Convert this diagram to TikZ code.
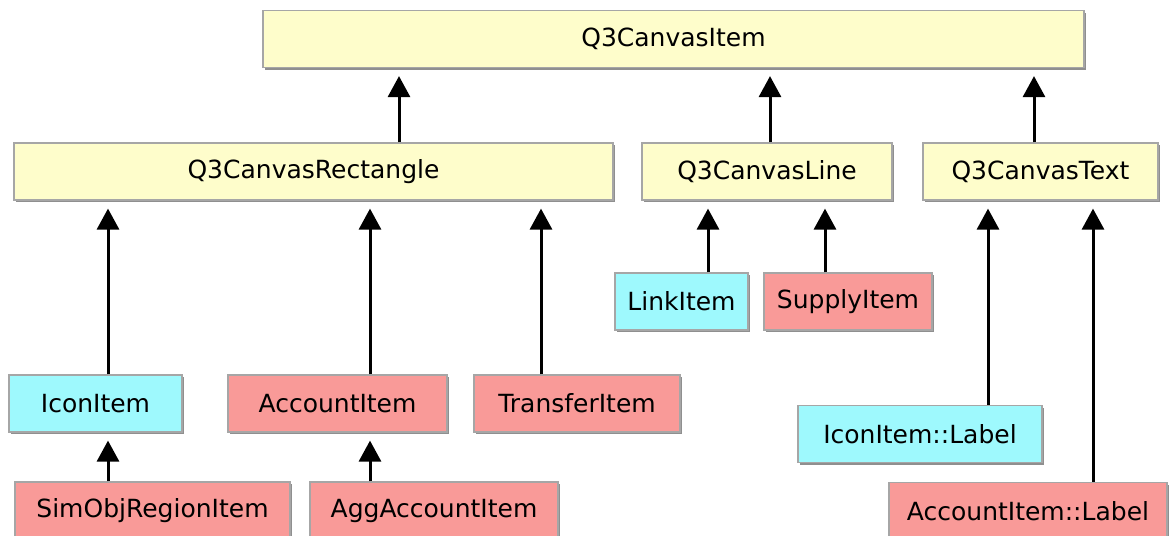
\documentclass[tikz,border=0pt]{standalone}
\usepackage{fontspec}
\setmainfont{DejaVu Sans}
\usetikzlibrary{arrows.meta,shadows}

\definecolor{qtyellow}{HTML}{FEFDCB}
\definecolor{owncyan}{HTML}{9EF9FD}
\definecolor{ownred}{HTML}{F99A98}

\begin{document}
\begin{tikzpicture}[x=0.5pt,y=-0.5pt,
    isa/.style={-{Triangle[width=11pt,length=10.5pt]},line width=1.5pt,
                shorten >=4pt}]
      \tikzstyle{every node}=[font=\fontsize{12.5}{15}\selectfont]
      \tikzstyle{cls}=[rectangle,draw=black!35,line width=0.6pt,inner sep=0pt,
                       minimum height=28.5pt,
                       drop shadow={shadow xshift=1.2pt,shadow yshift=-1.2pt,
                                    fill=black!55,opacity=0.8}]
      \tikzstyle{qt}=[cls,fill=qtyellow]
      \tikzstyle{view}=[cls,fill=owncyan]
      \tikzstyle{model}=[cls,fill=ownred]

      \useasboundingbox (0,0) rectangle (1174,536);

      % Qt classes
      \node[qt,minimum width=410.5pt] (item) at (673.5,39)    {Q3CanvasItem};
      \node[qt,minimum width=299.5pt] (rect) at (313.5,171.5) {Q3CanvasRectangle};
      \node[qt,minimum width=125pt]   (line) at (767,171.5)   {Q3CanvasLine};
      \node[qt,minimum width=117.5pt] (text) at (1040.5,171.5) {Q3CanvasText};

      % own classes
      \node[view,minimum width=66.5pt]  (link)   at (681.5,301.5) {LinkItem};
      \node[model,minimum width=84pt]   (supply) at (848,301.5)   {SupplyItem};
      \node[view,minimum width=86.5pt]  (icon)   at (95.5,403.5)  {IconItem};
      \node[model,minimum width=109.5pt] (account) at (337.5,403.5) {AccountItem};
      \node[model,minimum width=103pt]  (transfer) at (577,403.5) {TransferItem};
      \node[view,minimum width=122pt]   (iconlabel) at (920,434)  {IconItem::Label};
      \node[model,minimum width=137.5pt] (simobj) at (152.5,510.5) {SimObjRegionItem};
      \node[model,minimum width=124pt]  (agg)    at (434,510.5)   {AggAccountItem};
      \node[model,minimum width=139pt]  (accountlabel) at (1028,511) {AccountItem::Label};

      \path (rect.north -| 399,0)      edge[isa] (item.south -| 399,0)
            (line.north -| 770,0)      edge[isa] (item.south -| 770,0)
            (text.north -| 1034,0)     edge[isa] (item.south -| 1034,0)
            (icon.north -| 108,0)      edge[isa] (rect.south -| 108,0)
            (account.north -| 370,0)   edge[isa] (rect.south -| 370,0)
            (transfer.north -| 541,0)  edge[isa] (rect.south -| 541,0)
            (link.north -| 708,0)      edge[isa] (line.south -| 708,0)
            (supply.north -| 825,0)    edge[isa] (line.south -| 825,0)
            (iconlabel.north -| 988,0) edge[isa] (text.south -| 988,0)
            (accountlabel.north -| 1093,0) edge[isa] (text.south -| 1093,0)
            (simobj.north -| 108,0)    edge[isa] (icon.south -| 108,0)
            (agg.north -| 370,0)       edge[isa] (account.south -| 370,0);

    \end{tikzpicture}
\end{document}
